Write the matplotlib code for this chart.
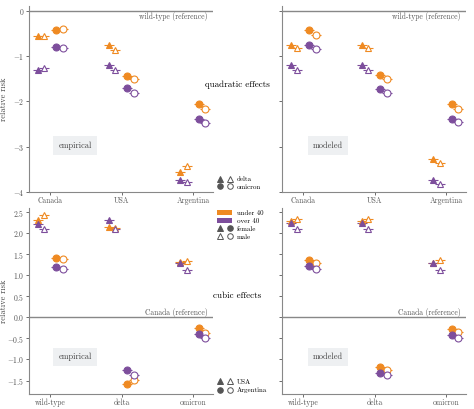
import matplotlib.pyplot as plt
import numpy as np
from matplotlib.lines import Line2D
from matplotlib.patches import Patch
from matplotlib.legend_handler import HandlerTuple

plt.rcParams['font.family'] = ['cmr10', 'DejaVu Serif']
plt.rcParams['axes.formatter.use_mathtext'] = True
plt.rcParams['mathtext.fontset'] = 'cm'

ORANGE = '#ef8a22'
PURPLE = '#7d4e9c'
GREY = '#888888'

countries = ['Canada', 'USA', 'Argentina']
variants = ['wild-type', 'delta', 'omicron']

# top row: [country][under F, under M, over F, over M]
quad_emp_delta = [[-0.57, -0.56, -1.30, -1.27],
                  [-0.75, -0.86, -1.20, -1.30],
                  [-3.57, -3.43, -3.73, -3.78]]
quad_emp_omi = [[-0.42, -0.40, -0.80, -0.82],
                [-1.44, -1.51, -1.71, -1.82],
                [-2.07, -2.16, -2.38, -2.48]]
quad_mod_delta = [[-0.75, -0.82, -1.21, -1.30],
                  [-0.75, -0.83, -1.21, -1.30],
                  [-3.28, -3.37, -3.74, -3.82]]
quad_mod_omi = [[-0.44, -0.53, -0.75, -0.84],
                [-1.42, -1.51, -1.73, -1.82],
                [-2.07, -2.16, -2.38, -2.46]]

# bottom row: [variant][under F, under M, over F, over M]
cub_emp_usa = [[2.32, 2.44, 2.21, 2.11],
               [2.15, 2.13, 2.31, 2.10],
               [1.32, 1.34, 1.30, 1.12]]
cub_emp_arg = [[1.42, 1.39, 1.19, 1.15],
               [-1.58, -1.48, -1.24, -1.36],
               [-0.24, -0.36, -0.39, -0.50]]
cub_mod_usa = [[2.28, 2.34, 2.25, 2.11],
               [2.28, 2.33, 2.25, 2.11],
               [1.30, 1.36, 1.29, 1.13]]
cub_mod_arg = [[1.36, 1.30, 1.22, 1.15],
               [-1.17, -1.24, -1.31, -1.38],
               [-0.28, -0.35, -0.41, -0.49]]

fig = plt.figure(figsize=(4.74, 4.09), dpi=100)
L1, L2, W = 29 / 474, 282 / 474, 184 / 474
ax_tl = fig.add_axes([L1, 1 - 192 / 409, W, 186 / 409])
ax_tr = fig.add_axes([L2, 1 - 192 / 409, W, 186 / 409])
ax_bl = fig.add_axes([L1, 1 - 394 / 409, W, 186 / 409])
ax_br = fig.add_axes([L2, 1 - 394 / 409, W, 186 / 409])


def draw(ax, first, second, marks, labels, ylim, yticks, ref, ref_above, box, showy):
    cols = [ORANGE, ORANGE, PURPLE, PURPLE]
    for vals, mk, off in [(first, marks[0], -0.18), (second, marks[1], 0.08)]:
        for i, row in enumerate(vals):
            for j, v in enumerate(row):
                x = i + off + (0.09 if j % 2 else 0)
                filled = j % 2 == 0
                ax.errorbar(x, v, xerr=0.07, fmt=mk, ms=5, color=cols[j],
                            mfc=cols[j] if filled else 'white', mec=cols[j],
                            mew=0.8, elinewidth=0.8, capsize=0)
    ax.axhline(0, color=GREY, lw=1)
    ax.set_xlim(-0.3, 2.28)
    ax.set_ylim(*ylim)
    ax.set_xticks([0, 1, 2])
    ax.set_xticklabels(labels)
    ax.set_yticks(yticks)
    if not showy:
        ax.set_yticklabels([])
    for s in ['top', 'right']:
        ax.spines[s].set_visible(False)
    for s in ['left', 'bottom']:
        ax.spines[s].set_color(GREY)
    ax.tick_params(colors='#555555', labelsize=5.5, length=2, width=0.6, pad=1.5)
    ax.text(0.97, 0.005 if ref_above else -0.03, ref,
            transform=ax.get_yaxis_transform(), ha='right',
            va='bottom' if ref_above else 'top', fontsize=5.5, color='#555555')
    ax.text(box[0], box[1], box[2], transform=ax.transAxes, fontsize=6,
            color='#444444', ha='center', va='center',
            bbox=dict(boxstyle='square,pad=0.6', fc='#eef0f2', ec='none'))


draw(ax_tl, quad_emp_delta, quad_emp_omi, '^o', countries, (-4, 0.1),
     [-4, -3, -2, -1, 0], 'wild-type (reference)', False, (0.25, 0.25, 'empirical'), True)
draw(ax_tr, quad_mod_delta, quad_mod_omi, '^o', countries, (-4, 0.1),
     [-4, -3, -2, -1, 0], 'wild-type (reference)', False, (0.25, 0.25, 'modeled'), False)
draw(ax_bl, cub_emp_usa, cub_emp_arg, '^o', variants, (-1.82, 2.6),
     [-1.5, -1.0, -0.5, 0.0, 0.5, 1.0, 1.5, 2.0, 2.5], 'Canada (reference)', True,
     (0.25, 0.2, 'empirical'), True)
draw(ax_br, cub_mod_usa, cub_mod_arg, '^o', variants, (-1.82, 2.6),
     [-1.5, -1.0, -0.5, 0.0, 0.5, 1.0, 1.5, 2.0, 2.5], 'Canada (reference)', True,
     (0.25, 0.2, 'modeled'), False)
ax_tl.set_yticklabels(['$-4$', '$-3$', '$-2$', '$-1$', '$0$'])
ax_bl.set_yticklabels(['$-1.5$', '$-1.0$', '$-0.5$', '$0.0$', '$0.5$', '$1.0$',
                       '$1.5$', '$2.0$', '$2.5$'])
for ax in (ax_tl, ax_bl):
    ax.set_ylabel('relative risk', fontsize=6, color='#444444')
    ax.yaxis.set_label_coords(-0.115, 0.5)

fig.text(0.5, 1 - 85 / 409, 'quadratic effects', ha='center', va='center',
         fontsize=6.5, fontweight='bold')
fig.text(0.5, 1 - 296 / 409, 'cubic effects', ha='center', va='center',
         fontsize=6.5, fontweight='bold')


def mk(m, filled):
    return Line2D([], [], ls='none', marker=m, ms=4, color='#555555',
                  mfc='#555555' if filled else 'white', mec='#555555', mew=0.7)


lkw = dict(frameon=False, fontsize=5, handler_map={tuple: HandlerTuple(ndivide=None, pad=0.6)},
           handlelength=2.2, handletextpad=0.6, labelspacing=0.3, loc='center left')
fig.legend([(mk('^', True), mk('^', False)), (mk('o', True), mk('o', False))],
           ['delta', 'omicron'], bbox_to_anchor=(0.445, 1 - 183 / 409), **lkw)
fig.legend([Patch(fc=ORANGE), Patch(fc=PURPLE),
            (mk('^', True), mk('o', True)), (mk('^', False), mk('o', False))],
           ['under 40', 'over 40', 'female', 'male'],
           bbox_to_anchor=(0.445, 1 - 225 / 409), **lkw)
fig.legend([(mk('^', True), mk('^', False)), (mk('o', True), mk('o', False))],
           ['USA', 'Argentina'], bbox_to_anchor=(0.445, 1 - 386 / 409), **lkw)

fig.savefig('out.png', dpi=100)
